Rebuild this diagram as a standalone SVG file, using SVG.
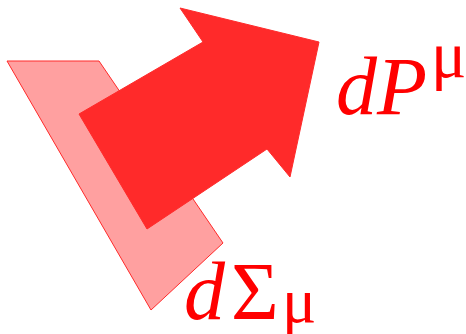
<svg xmlns="http://www.w3.org/2000/svg" width="466" height="334" viewBox="0 0 466 334">
<style>
.t{font-family:"Liberation Serif","DejaVu Serif",serif;fill:#ff0000}
.i{font-style:italic}
</style>
<rect width="466" height="334" fill="#fff"/>
<g id="surface">
<polygon points="7,61 99,61 223,243 151,310" fill="#ffa0a0" stroke="#ff2a2a" stroke-width="1"/>
</g>
<g id="arrow">
<polygon points="79,114 203,42 180,8 319,42 290,177 267,149 147,229" fill="#ff2a2a" stroke="#ff2a2a" stroke-width="1"/>
</g>
<g id="label-dP">
<text class="t" font-size="82"><tspan class="i" x="336" y="114">dP</tspan><tspan font-size="66" x="431" y="77">μ</tspan></text>
</g>
<g id="label-dSigma">
<text class="t" font-size="82"><tspan class="i" x="184" y="319">d</tspan><tspan x="231" y="319">Σ</tspan><tspan font-size="64" x="282" y="322">μ</tspan></text>
</g>
</svg>
